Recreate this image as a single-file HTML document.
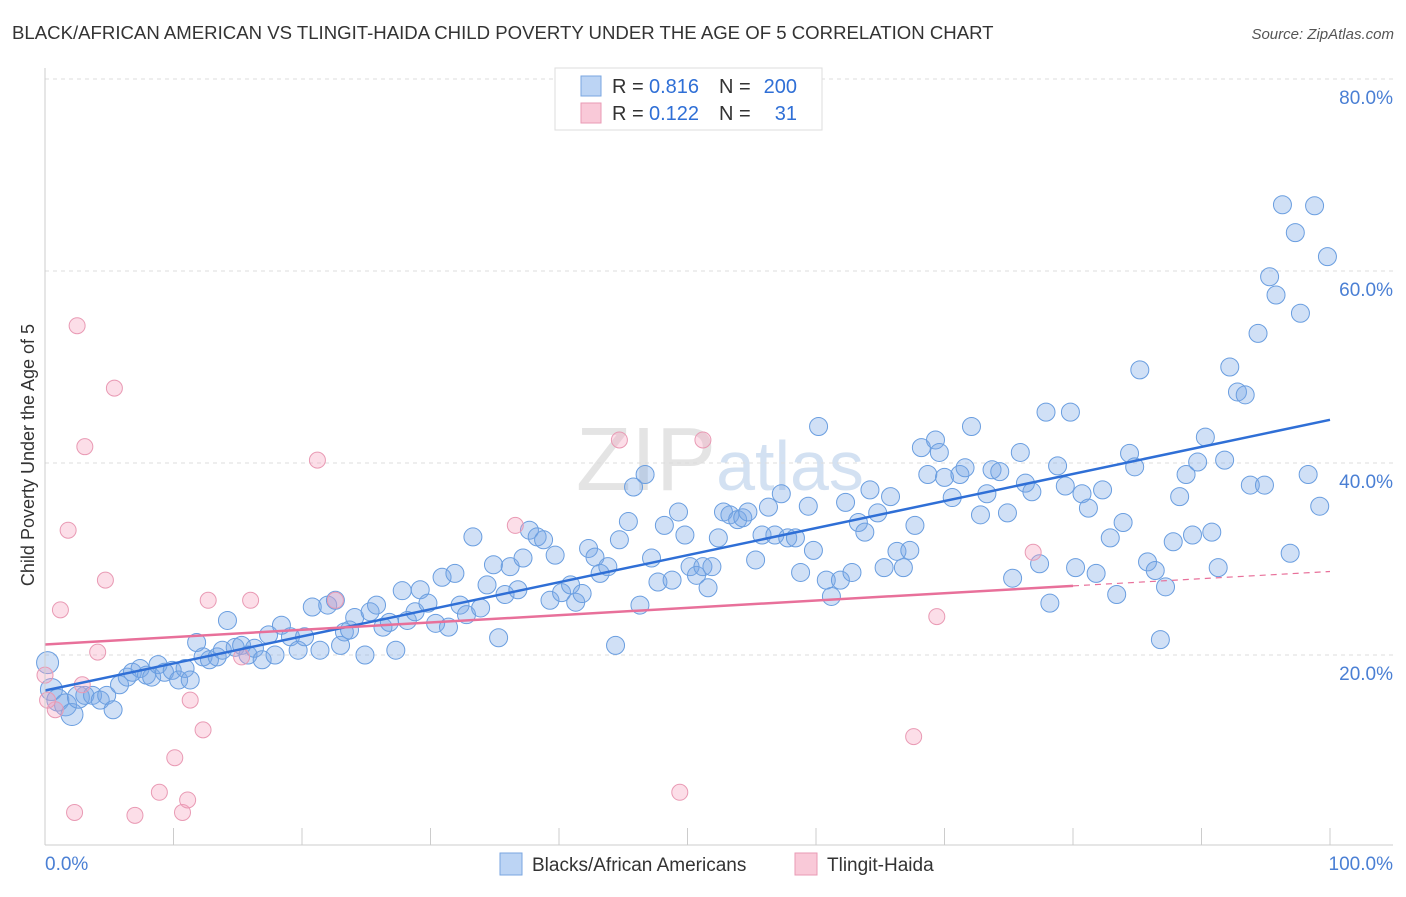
<!DOCTYPE html>
<html><head><meta charset="utf-8"><style>
body{margin:0;background:#fff;font-family:"Liberation Sans",sans-serif;}
svg text{font-family:"Liberation Sans",sans-serif;}
</style></head><body>
<svg id="chart" width="1406" height="892">
<text x="12" y="39" font-size="18.6" fill="#333">BLACK/AFRICAN AMERICAN VS TLINGIT-HAIDA CHILD POVERTY UNDER THE AGE OF 5 CORRELATION CHART</text>
<text x="1394" y="39" font-size="15" fill="#555" text-anchor="end" font-style="italic">Source: ZipAtlas.com</text>
<text x="720" y="490" font-size="90" fill="#e4e4e4" text-anchor="middle" font-family="Liberation Serif">ZIP<tspan fill="#d3e1f2" font-family="Liberation Sans" font-size="70">atlas</tspan></text>
<g id="grid"></g><g id="pts"></g><g id="lines"></g><g id="axes"></g>
<text transform="translate(34,455) rotate(-90)" font-size="18" fill="#333" text-anchor="middle">Child Poverty Under the Age of 5</text>
<g>
<rect x="555" y="68" width="267" height="62" fill="#fff" stroke="#ddd"/>
<rect x="581" y="76" width="20" height="20" fill="#bcd4f4" stroke="#7aa6e0"/>
<rect x="581" y="103" width="20" height="20" fill="#f9c9d8" stroke="#e99ab4"/>
<text x="612" y="93" font-size="20" fill="#333">R =</text>
<text x="649" y="93" font-size="20" fill="#2f6fd6">0.816</text>
<text x="719" y="93" font-size="20" fill="#333">N =</text>
<text x="797" y="93" font-size="20" fill="#2f6fd6" text-anchor="end">200</text>
<text x="612" y="120" font-size="20" fill="#333">R =</text>
<text x="649" y="120" font-size="20" fill="#2f6fd6">0.122</text>
<text x="719" y="120" font-size="20" fill="#333">N =</text>
<text x="797" y="120" font-size="20" fill="#2f6fd6" text-anchor="end">31</text>
</g>
<g>
<rect x="500" y="853" width="22" height="22" fill="#bcd4f4" stroke="#7aa6e0"/>
<text x="532" y="871" font-size="19" fill="#333">Blacks/African Americans</text>
<rect x="795" y="853" width="22" height="22" fill="#f9c9d8" stroke="#e99ab4"/>
<text x="827" y="871" font-size="19" fill="#333">Tlingit-Haida</text>
</g>
</svg>
<script>
const blueX=[0.2,0.5,1.0,1.6,2.1,2.6,3.1,3.7,4.3,4.8,5.3,5.8,6.4,6.8,7.4,7.9,8.3,8.8,9.3,9.9,10.4,10.9,11.3,11.8,12.3,12.8,13.4,13.8,14.2,14.8,15.3,15.8,16.3,16.9,17.4,17.9,18.4,19.1,19.7,20.2,20.8,21.4,22.0,22.6,23.0,23.3,23.7,24.1,24.9,25.3,25.8,26.3,26.8,27.3,27.8,28.2,28.8,29.2,29.8,30.4,30.9,31.4,31.9,32.3,32.8,33.3,33.9,34.4,34.9,35.3,35.8,36.2,36.8,37.2,37.7,38.3,38.8,39.3,39.7,40.2,40.9,41.3,41.8,42.3,42.8,43.2,43.8,44.4,44.7,45.4,45.8,46.3,46.7,47.2,47.7,48.2,48.8,49.3,49.8,50.2,50.7,51.2,51.6,51.9,52.4,52.8,53.3,53.9,54.3,54.7,55.3,55.8,56.3,56.8,57.3,57.8,58.4,58.8,59.4,59.8,60.2,60.8,61.2,61.9,62.3,62.8,63.3,63.8,64.2,64.8,65.3,65.8,66.3,66.8,67.3,67.7,68.2,68.7,69.3,69.6,70.0,70.6,71.2,71.6,72.1,72.8,73.3,73.7,74.3,74.9,75.3,75.9,76.3,76.8,77.4,77.9,78.2,78.8,79.4,79.8,80.2,80.7,81.2,81.8,82.3,82.9,83.4,83.9,84.4,84.8,85.2,85.8,86.4,86.8,87.2,87.8,88.3,88.8,89.3,89.7,90.3,90.8,91.3,91.8,92.2,92.8,93.4,93.8,94.4,94.9,95.3,95.8,96.3,96.9,97.3,97.7,98.3,98.8,99.2,99.8];
const blueY=[19.2,16.4,15.3,14.8,13.8,15.6,15.8,15.8,15.3,15.8,14.3,16.9,17.7,18.2,18.6,17.9,17.7,19.0,18.2,18.4,17.4,18.6,17.4,21.3,19.8,19.5,19.8,20.5,23.6,20.8,21.0,20.0,20.7,19.5,22.1,20.0,23.1,21.9,20.5,21.9,25.0,20.5,25.2,25.7,21.0,22.4,22.6,23.9,20.0,24.5,25.2,22.9,23.4,20.5,26.7,23.6,24.5,26.8,25.4,23.3,28.1,22.9,28.5,25.2,24.2,32.3,24.9,27.3,29.4,21.8,26.3,29.2,26.8,30.1,33.0,32.3,32.0,25.7,30.4,26.5,27.3,25.5,26.4,31.1,30.2,28.5,29.2,21.0,32.0,33.9,37.5,25.2,38.8,30.1,27.6,33.5,27.8,34.9,32.5,29.2,28.3,29.2,27.0,29.2,32.2,34.9,34.6,34.1,34.3,34.9,29.9,32.5,35.4,32.5,36.8,32.2,32.2,28.6,35.5,30.9,43.8,27.8,26.1,27.8,35.9,28.6,33.8,32.8,37.2,34.8,29.1,36.5,30.8,29.1,30.9,33.5,41.6,38.8,42.4,41.1,38.5,36.4,38.8,39.5,43.8,34.6,36.8,39.3,39.1,34.8,28.0,41.1,37.9,37.0,29.5,45.3,25.4,39.7,37.6,45.3,29.1,36.8,35.3,28.5,37.2,32.2,26.3,33.8,41.0,39.6,49.7,29.7,28.8,21.6,27.1,31.8,36.5,38.8,32.5,40.1,42.7,32.8,29.1,40.3,50.0,47.4,47.1,37.7,53.5,37.7,59.4,57.5,66.9,30.6,64.0,55.6,38.8,66.8,35.5,61.5];
const pinkX=[0,0.8,1.2,1.8,2.5,2.9,3.1,4.1,4.7,5.4,7.0,8.9,10.1,10.7,11.1,11.3,12.3,12.7,15.3,16.0,21.2,22.6,36.6,44.7,49.4,51.2,67.6,69.4,76.9,0.2,2.3];
const pinkY=[17.9,14.3,24.7,33.0,54.3,16.9,41.7,20.3,27.8,47.8,3.3,5.7,9.3,3.6,4.9,15.3,12.2,25.7,19.8,25.7,40.3,25.7,33.5,42.4,5.7,42.4,11.5,24.0,30.7,15.3,3.6];
const yTicks=[20,40,60,80];
const yTickLabels=["20.0%","40.0%","60.0%","80.0%"];
const xTicks=[0,10,20,30,40,50,60,70,80,90,100];
const blueFit=[16.3,44.5];
const pinkFit=[21.1,27.2,28.7];
const pinkSolidEnd=80;

const NS="http://www.w3.org/2000/svg";
const X=v=>45+v*12.85, Y=v=>847-v*9.6;
function mk(tag,parent,attrs){const e=document.createElementNS(NS,tag);for(const k in attrs)e.setAttribute(k,attrs[k]);document.getElementById(parent).appendChild(e);return e;}
yTicks.forEach((t,i)=>{
 const g=mk('line','grid',{x1:45,x2:1393,y1:Y(t),y2:Y(t),stroke:'#ddd','stroke-dasharray':'4,4'});
 
 
 const l=mk('text','axes',{x:1393,y:Y(t)+25,'font-size':19,fill:'#4a7fd4','text-anchor':'end'});l.textContent=yTickLabels[i];
 
 
});
const ax=mk('line','axes',{x1:45,x2:1393,y1:845,y2:845,stroke:'#ccc'});


const ay=mk('line','axes',{x1:45,x2:45,y1:68,y2:845,stroke:'#ccc'});


xTicks.forEach(t=>{const l=mk('line','axes',{x1:X(t),x2:X(t),y1:828,y2:845,stroke:'#ccc'});
 
 });
[[0,'0.0%','start',45],[100,'100.0%','end',1393]].forEach(a=>{const l=mk('text','axes',{x:a[3],y:870,'font-size':19,fill:'#4a7fd4','text-anchor':a[2]});l.textContent=a[1];
 
 });
blueX.forEach((x,i)=>{const c=mk('circle','pts',{cx:X(x),cy:Y(blueY[i]),r:x<3?11:9,fill:'rgba(120,165,230,0.35)',stroke:'#6a9ee0','stroke-width':1});
 
 });
pinkX.forEach((x,i)=>{const c=mk('circle','pts',{cx:X(x),cy:Y(pinkY[i]),r:8,fill:'rgba(245,160,190,0.35)',stroke:'#e99ab4','stroke-width':1});
 
 });
const bl=mk('line','lines',{x1:X(0),y1:Y(blueFit[0]),x2:X(100),y2:Y(blueFit[1]),stroke:'#2f6fd6','stroke-width':2.5});


const pl=mk('line','lines',{x1:X(0),y1:Y(pinkFit[0]),x2:X(pinkSolidEnd),y2:Y(pinkFit[1]),stroke:'#e8709a','stroke-width':2.5});


const pd=mk('line','lines',{x1:X(pinkSolidEnd),y1:Y(pinkFit[1]),x2:X(100),y2:Y(pinkFit[2]),stroke:'#e8709a','stroke-width':1.2,'stroke-dasharray':'6,5'});


</script>
</body></html>
